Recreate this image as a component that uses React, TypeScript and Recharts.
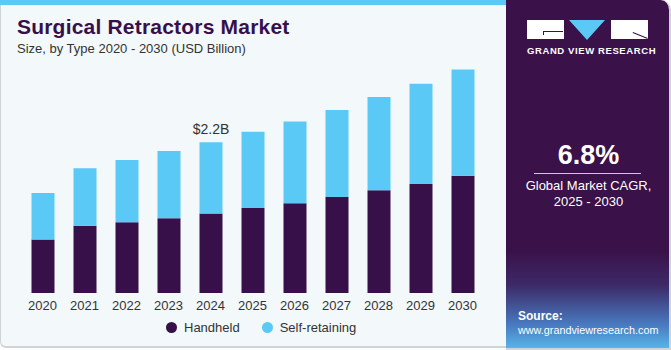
import { BarChart, Bar, XAxis, YAxis, LabelList } from 'recharts'

const PURPLE = '#37104a'
const CYAN = '#5bc9f5'
const BG = '#f3f8fb'

const years = ['2020', '2021', '2022', '2023', '2024', '2025', '2026', '2027', '2028', '2029', '2030']
const handheld = [0.78, 0.98, 1.03, 1.09, 1.16, 1.24, 1.31, 1.4, 1.5, 1.59, 1.71]
const selfRetaining = [0.68, 0.84, 0.91, 0.98, 1.04, 1.11, 1.19, 1.27, 1.36, 1.46, 1.55]
const calloutIndex = 4
const calloutText = '$2.2B'

const data = years.map((year, i) => ({
  year,
  handheld: handheld[i],
  selfRetaining: selfRetaining[i],
}))

const FONT = '"Liberation Sans", Arial, sans-serif'

function Callout(props: any) {
  const { x, y, width, index } = props
  if (index !== calloutIndex) return null
  return (
    <text
      x={x + width / 2}
      y={y - 8}
      textAnchor="middle"
      fontSize={14}
      fill="#333"
      fontFamily={FONT}
    >
      {calloutText}
    </text>
  )
}

export default function App() {
  return (
    <div style={{ position: 'relative', width: 671, height: 350, fontFamily: FONT, overflow: 'hidden' }}>
      <style>{'body{margin:0}'}</style>
      {/* left panel */}
      <div
        style={{
          position: 'absolute',
          left: 0,
          top: 0,
          width: 506,
          height: 348,
          background: BG,
          borderLeft: '1px solid #d0d4d8',
          borderBottom: '2px solid #d0d4d8',
          borderBottomLeftRadius: 6,
          boxSizing: 'border-box',
        }}
      />
      <div style={{ position: 'absolute', left: 0, top: 0, width: 506, height: 5, background: CYAN }} />

      <div style={{ position: 'absolute', left: 17, top: 15, fontSize: 21, fontWeight: 900, color: PURPLE, letterSpacing: 0.2 }}>
        Surgical Retractors Market
      </div>
      <div style={{ position: 'absolute', left: 17, top: 41, fontSize: 13, color: '#333' }}>
        Size, by Type 2020 - 2030 (USD Billion)
      </div>

      <div style={{ position: 'absolute', left: 0, top: 0 }}>
        <BarChart
          width={506}
          height={350}
          data={data}
          margin={{ top: 53, right: 22.5, bottom: 27, left: 21.5 }}
          barSize={23}
        >
          <XAxis
            dataKey="year"
            axisLine={false}
            tickLine={false}
            height={30}
            interval={0}
            tick={{ fontSize: 13, fill: '#333', fontFamily: FONT }}
          />
          <YAxis hide domain={[0, 3.5]} />
          <Bar dataKey="handheld" stackId="a" fill={PURPLE} isAnimationActive={false} />
          <Bar dataKey="selfRetaining" stackId="a" fill={CYAN} isAnimationActive={false}>
            <LabelList dataKey="selfRetaining" content={Callout} />
          </Bar>
        </BarChart>
      </div>

      {/* legend */}
      <div style={{ position: 'absolute', left: 166, top: 320, display: 'flex', alignItems: 'center', fontSize: 13, color: '#333' }}>
        <span style={{ width: 11, height: 11, borderRadius: '50%', background: PURPLE, display: 'inline-block', marginRight: 7 }} />
        <span>Handheld</span>
        <span style={{ width: 11, height: 11, borderRadius: '50%', background: CYAN, display: 'inline-block', marginLeft: 22, marginRight: 7 }} />
        <span>Self-retaining</span>
      </div>

      {/* right panel */}
      <div
        style={{
          position: 'absolute',
          left: 506,
          top: 0,
          width: 163,
          height: 348,
          borderTopRightRadius: 10,
          background: 'linear-gradient(to bottom, #3a1149 0%, #3a1149 72%, #3d2a68 82%, #4877bd 93%, #58b4e8 100%)',
          borderBottom: '2px solid #d0d4d8',
          borderRight: '2px solid #d0d4d8',
          boxSizing: 'content-box',
        }}
      />
      {/* logo */}
      <div style={{ position: 'absolute', left: 527, top: 20, width: 37, height: 19, background: '#fff' }} />
      <div style={{ position: 'absolute', left: 543, top: 31, width: 20, height: 1, background: PURPLE }} />
      <div style={{ position: 'absolute', left: 543, top: 31, width: 1, height: 4, background: PURPLE }} />
      <div
        style={{
          position: 'absolute',
          left: 569,
          top: 20,
          width: 0,
          height: 0,
          borderLeft: '18.5px solid transparent',
          borderRight: '18.5px solid transparent',
          borderTop: `20px solid ${CYAN}`,
        }}
      />
      <div style={{ position: 'absolute', left: 611, top: 20, width: 37, height: 19, background: '#fff' }} />
      <div
        style={{
          position: 'absolute',
          left: 633,
          top: 32,
          width: 16,
          height: 1,
          background: PURPLE,
          transform: 'rotate(22deg)',
          transformOrigin: '0 0',
        }}
      />
      <div style={{ position: 'absolute', left: 527, top: 45, width: 121, textAlign: 'center', fontSize: 9.5, fontWeight: 700, color: '#fff', letterSpacing: 0.6, whiteSpace: 'nowrap' }}>
        GRAND VIEW RESEARCH
      </div>

      <div style={{ position: 'absolute', left: 506, top: 140, width: 165, textAlign: 'center', fontSize: 27, fontWeight: 700, color: '#fff' }}>
        6.8%
      </div>
      <div style={{ position: 'absolute', left: 534, top: 173, width: 107, height: 1, background: '#cfc6d8' }} />
      <div style={{ position: 'absolute', left: 506, top: 178, width: 165, textAlign: 'center', fontSize: 13, color: '#fff', lineHeight: '16px' }}>
        Global Market CAGR,
        <br />
        2025 - 2030
      </div>

      <div style={{ position: 'absolute', left: 518, top: 309, fontSize: 12, fontWeight: 700, color: '#fff' }}>Source:</div>
      <div style={{ position: 'absolute', left: 518, top: 324, fontSize: 10.8, color: '#fff', whiteSpace: 'nowrap' }}>
        www.grandviewresearch.com
      </div>
    </div>
  )
}
